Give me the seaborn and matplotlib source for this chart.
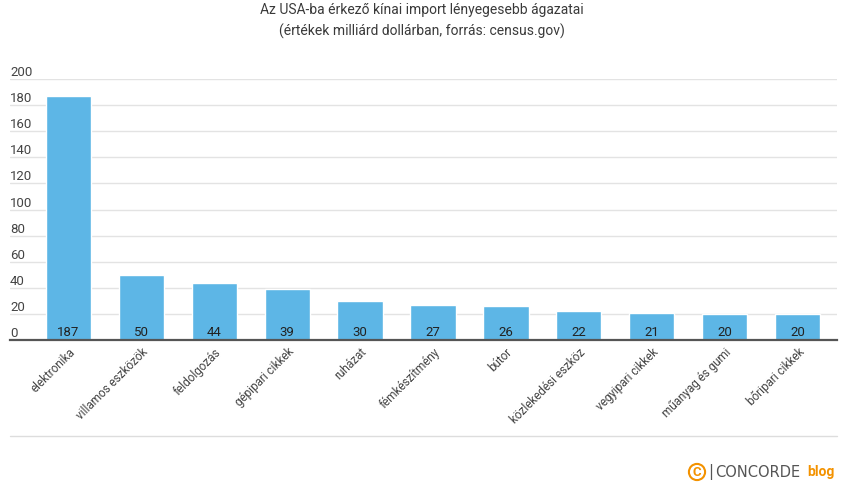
import matplotlib
matplotlib.use("Agg")
import matplotlib.pyplot as plt
import seaborn as sns
import pandas as pd
from matplotlib.lines import Line2D

categories = ["elektronika", "villamos eszközök", "feldolgozás", "gépipari cikkek",
              "ruházat", "fémkészítmény", "bútor", "közlekedési eszköz",
              "vegyipari cikkek", "műanyag és gumi", "bőripari cikkek"]
values = [187, 50, 44, 39, 30, 27, 26, 22, 21, 20, 20]
y_ticks = [0, 20, 40, 60, 80, 100, 120, 140, 160, 180, 200]

title = "Az USA-ba érkező kínai import lényegesebb ágazatai\n(értékek milliárd dollárban, forrás: census.gov)"

sns.set_style("white")
plt.rcParams['font.family'] = ['Roboto', 'DejaVu Sans']

df = pd.DataFrame({"ag": categories, "ertek": values})

fig = plt.figure(figsize=(8.44, 4.86), dpi=100)
ax = fig.add_axes([10/844, 146/486, 827/844, 261/486])

bar_color = "#5DB6E6"
sns.barplot(data=df, x="ag", y="ertek", color=bar_color, saturation=1,
            width=0.62, ax=ax, zorder=3)

ax.set_xlim(-0.8, 10.54)
ax.set_ylim(0, 200)
ax.set_yticks(y_ticks)
ax.set_yticklabels([str(t) for t in y_ticks])
ax.grid(axis="y", color="#e3e3e3", linewidth=1, zorder=0)
ax.set_axisbelow(True)
for s in ["top", "right", "left"]:
    ax.spines[s].set_visible(False)
ax.spines["bottom"].set_color("#555555")
ax.spines["bottom"].set_linewidth(1.6)
ax.spines["bottom"].set_zorder(4)

ax.tick_params(axis="y", length=0, pad=0, labelsize=9.5, labelcolor="#444444")
for lbl in ax.get_yticklabels():
    lbl.set_horizontalalignment("left")
    lbl.set_verticalalignment("bottom")

ax.tick_params(axis="x", length=0, pad=4, labelsize=8.5, labelcolor="#444444")
ax.set_xticks(range(len(categories)))
ax.set_xticklabels(categories, rotation=45, ha="right", rotation_mode="anchor")
ax.set_xlabel("")
ax.set_ylabel("")

# ertekek az oszlopok aljan
for i, v in enumerate(values):
    ax.annotate(str(v), (i, 0), xytext=(0, 1), textcoords="offset points",
                ha="center", va="bottom", fontsize=9.5, color="#222222", zorder=5)

fig.text(0.5, 1 - 21/486, title, ha="center", va="center", fontsize=10,
         color="#3a3a3a", linespacing=1.6)

# elvalaszto vonal
fig.add_artist(Line2D([10/844, 837/844], [50/486, 50/486], color="#dddddd", linewidth=1))

# logo
fig.text(697/844, 1 - 472/486, "C", ha="center", va="center", fontsize=9.5,
         fontweight="bold", color="#F39200",
         bbox=dict(boxstyle="circle,pad=0.12", fc="white", ec="#F39200", lw=1.5))
fig.text(708/844, 1 - 472/486, "|", ha="left", va="center", fontsize=11,
         color="#555555", family="DejaVu Sans")
fig.text(715/844, 1 - 472/486, "CONCORDE", ha="left", va="center", fontsize=10.5,
         color="#555555", family="DejaVu Sans")
fig.text(807/844, 1 - 472/486, "blog", ha="left", va="center", fontsize=10,
         fontweight="bold", color="#F39200")

fig.savefig("out.png", dpi=100)
